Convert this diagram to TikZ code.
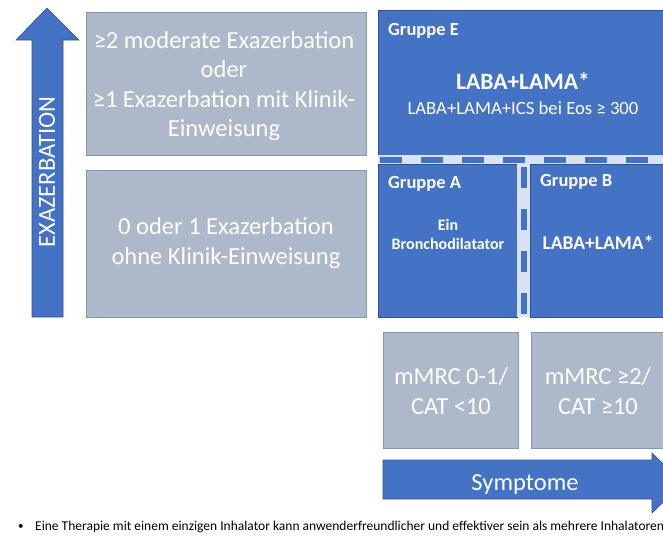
\documentclass[tikz,border=0pt]{standalone}
\usepackage{fontspec}
\setmainfont{Carlito}
\definecolor{oblue}{HTML}{4472C4}
\definecolor{oblueD}{HTML}{2F528F}
\definecolor{ogray}{HTML}{ADB9CA}
\definecolor{ograyD}{HTML}{8497B0}
\definecolor{olight}{HTML}{DAE3F3}
\begin{document}
\begin{tikzpicture}[x=1pt,y=-1pt,
  graybox/.style={fill=ogray,draw=ograyD,line width=1pt},
  bluebox/.style={fill=oblue,draw=oblueD,line width=1pt},
  wtxt/.style={text=white,inner sep=0pt,align=center},
  bigtxt/.style={wtxt,font=\fontsize{24.5}{29.5}\selectfont},
  grp/.style={wtxt,anchor=west,font=\bfseries\fontsize{18.5}{20}\selectfont},
  sep/.style={draw=oblue,line width=6pt}]
\useasboundingbox (0,0) rectangle (663,536);
\begin{scope}
\clip (0,0) rectangle (663,536);
% vertical arrow
\draw[bluebox,line width=0.6pt] (32,317) -- (32,40) -- (16,40) -- (47,8) -- (79,40) -- (63,40) -- (63,317) -- cycle;
\node[wtxt,rotate=90,font=\fontsize{24.5}{26}\selectfont] (exa) at (47,172) {EXAZERBATION};
% gray left boxes
\draw[graybox] (86,12) rectangle (366,155);
\node[bigtxt] (t1) at (224,86) {≥2 moderate Exazerbation\\oder\\≥1 Exazerbation mit Klinik-\\Einweisung};
\draw[graybox] (86,170) rectangle (366,317);
\node[bigtxt] (t2) at (226,243) {0 oder 1 Exazerbation\\ohne Klinik-Einweisung};
% blue region
\fill[oblue] (378,10) rectangle (670,317);
\draw[oblueD,line width=1pt] (378,10) rectangle (670,155);
\draw[oblueD,line width=1pt] (378,164) rectangle (517,317);
\draw[oblueD,line width=1pt] (530,164) rectangle (670,317);
\fill[olight] (378,155) rectangle (670,164);
\fill[olight] (517,164) rectangle (530,317);
\draw[sep,dash pattern=on 22pt off 19pt] (380,159.5) -- (670,159.5);
\draw[sep,dash pattern=on 21pt off 21pt] (523.5,167) -- (523.5,317);
\node[grp] (ge) at (388,31) {Gruppe E};
\node[wtxt,font=\bfseries\fontsize{23.5}{26}\selectfont] (ge1) at (523,81) {LABA+LAMA*};
\node[wtxt,font=\fontsize{18.7}{21}\selectfont] (ge2) at (523,108) {LABA+LAMA+ICS bei Eos ≥ 300};
\node[grp] (ga) at (388,184) {Gruppe A};
\node[wtxt,font=\bfseries\fontsize{16}{19}\selectfont] (ga1) at (448,234) {Ein\\Bronchodilatator};
\node[grp] (gb) at (540,182) {Gruppe B};
\node[wtxt,font=\bfseries\fontsize{19.5}{22}\selectfont] (gb1) at (598,243) {LABA+LAMA*};
% bottom gray boxes
\draw[graybox] (383,332) rectangle (518,448);
\node[bigtxt] (s1) at (451,391) {mMRC 0-1/\\CAT <10};
\draw[graybox] (531,332) rectangle (668,448);
\node[bigtxt] (s2) at (598,391) {mMRC ≥2/\\CAT ≥10};
% horizontal arrow
\draw[bluebox,line width=0.6pt] (383,460) -- (652,460) -- (652,453) -- (683,483) -- (652,513) -- (652,499) -- (383,499) -- cycle;
\node[wtxt,font=\fontsize{24.5}{26}\selectfont] (sym) at (525,485) {Symptome};
% footnote
\node[inner sep=0pt,anchor=west,font=\fontsize{11}{15}\selectfont] (bul) at (18,527) {•};
\node[inner sep=0pt,anchor=west,font=\fontsize{13.5}{15}\selectfont] (note) at (35,527) {Eine Therapie mit einem einzigen Inhalator kann anwenderfreundlicher und effektiver sein als mehrere Inhalatoren};
\end{scope}
\end{tikzpicture}
\end{document}
